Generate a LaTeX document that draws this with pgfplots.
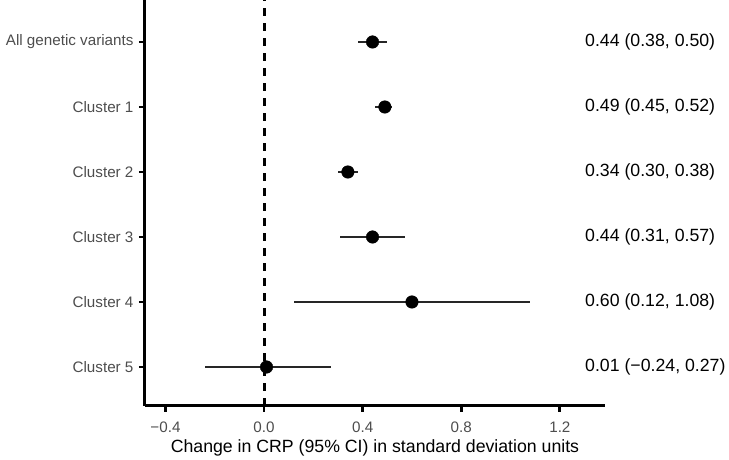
\documentclass[border=0pt]{standalone}
\usepackage{fontspec}
\setmainfont{Liberation Sans}
\usepackage{pgfplots}
\pgfplotsset{compat=1.18}
\usepackage{pgfplotstable}
\definecolor{ticktext}{HTML}{4D4D4D}
\pgfplotstableread{
y est lo hi
6 0.44 0.38 0.50
5 0.49 0.45 0.52
4 0.34 0.30 0.38
3 0.44 0.31 0.57
2 0.60 0.12 1.08
1 0.01 -0.24 0.27
}\datatable
\begin{document}
\begin{tikzpicture}
\begin{axis}[
  scale only axis, width=460pt, height=406pt,
  xmin=-0.483, xmax=1.383, ymin=0.4, ymax=6.646,
  axis x line*=bottom, axis y line*=left,
  axis line style={-, line width=3pt, black},
  every outer x axis line/.append style={line width=3pt},
  every outer y axis line/.append style={line width=3pt},
  tick align=outside, major tick length=6pt,
  tick style={line width=2.8pt, black},
  xtick={-0.4,0,0.4,0.8,1.2},
  xticklabels={−0.4,0.0,0.4,0.8,1.2},
  ytick={1,2,3,4,5,6},
  yticklabels={Cluster 5,Cluster 4,Cluster 3,Cluster 2,Cluster 1,All genetic variants},
  ticklabel style={font=\fontsize{15.2}{17}\selectfont, text=ticktext},
  xticklabel style={yshift=-6pt},
  yticklabel style={xshift=-2pt},
  xlabel={Change in CRP (95\% CI) in standard deviation units},
  xlabel style={font=\fontsize{17.7}{20}\selectfont, text=black, yshift=-1pt},
  clip=false,
]
\addplot[black, line width=2.9pt, dash pattern=on 8pt off 7pt] coordinates {(0,0.4) (0,6.646)};
\addplot[only marks, mark=*, mark size=6.3pt, black,
  error bars/.cd, x dir=both, x explicit, error mark=none,
  error bar style={line width=1.5pt, black!85}]
  table[x=est, y=y, x error plus expr=\thisrow{hi}-\thisrow{est}, x error minus expr=\thisrow{est}-\thisrow{lo}] {\datatable};
\begin{scope}[every node/.style={anchor=west, font=\fontsize{17.7}{20}\selectfont, inner sep=0pt}]
\node at (axis cs:1.302,6) {0.44 (0.38, 0.50)};
\node at (axis cs:1.302,5) {0.49 (0.45, 0.52)};
\node at (axis cs:1.302,4) {0.34 (0.30, 0.38)};
\node at (axis cs:1.302,3) {0.44 (0.31, 0.57)};
\node at (axis cs:1.302,2) {0.60 (0.12, 1.08)};
\node at (axis cs:1.302,1) {0.01 (−0.24, 0.27)};
\end{scope}
\end{axis}
\pgfresetboundingbox
\path (current axis.south west) ++(-145pt,-54pt) rectangle ++(729pt,460pt);
\end{tikzpicture}
\end{document}
